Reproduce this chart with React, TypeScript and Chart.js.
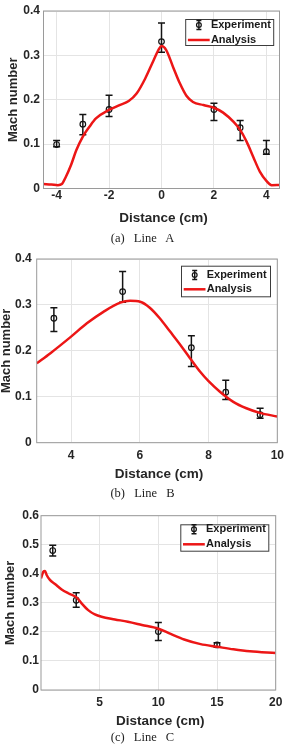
import React, { useEffect, useRef } from "react";
import { Chart, registerables } from "chart.js";

Chart.register(...registerables);

// ---- Line A ----
const lineADistance = [-4, -3, -2, 0, 2, 3, 4];
const lineAMach = [0.099, 0.145, 0.178, 0.331, 0.178, 0.137, 0.083];
const lineAMachLow = [0.094, 0.121, 0.162, 0.307, 0.153, 0.108, 0.077];
const lineAMachHigh = [0.108, 0.167, 0.21, 0.373, 0.192, 0.153, 0.108];
const lineAAnalysisDistance = [
  -4.5, -4.2, -3.95, -3.8, -3.65, -3.45, -3.25, -3, -2.75, -2.5, -2, -1.6, -1.25, -0.95, -0.62,
  -0.3, -0.1, 0, 0.18, 0.44, 0.7, 0.95, 1.2, 1.6, 2, 2.35, 2.75, 3, 3.25, 3.5, 3.75, 4, 4.2, 4.5,
];
const lineAAnalysisMach = [
  0.01, 0.009, 0.0075, 0.01, 0.026, 0.053, 0.086, 0.117, 0.139, 0.158, 0.177, 0.188, 0.197, 0.214,
  0.248, 0.289, 0.314, 0.321, 0.312, 0.274, 0.237, 0.209, 0.195, 0.188, 0.182, 0.171, 0.15, 0.132,
  0.105, 0.071, 0.038, 0.017, 0.0075, 0.008,
];
const lineADistanceTicks = [-4, -2, 0, 2, 4];
const lineAMachTicks = [0, 0.1, 0.2, 0.3, 0.4];

// ---- Line B ----
const lineBDistance = [3.5, 5.5, 7.5, 8.5, 9.5];
const lineBMach = [0.271, 0.329, 0.207, 0.11, 0.061];
const lineBMachLow = [0.242, 0.306, 0.166, 0.094, 0.053];
const lineBMachHigh = [0.294, 0.373, 0.233, 0.136, 0.075];
const lineBAnalysisDistance = [
  3, 3.4, 4, 4.46, 4.94, 5.43, 5.72, 6.01, 6.29, 6.58, 6.87, 7.17, 7.46, 7.75, 8, 8.33, 8.72, 9.1,
  9.49, 10,
];
const lineBAnalysisMach = [
  0.173, 0.195, 0.231, 0.26, 0.285, 0.305, 0.309, 0.307, 0.294, 0.271, 0.243, 0.214, 0.184, 0.155,
  0.134, 0.111, 0.089, 0.075, 0.065, 0.057,
];
const lineBDistanceTicks = [4, 6, 8, 10];
const lineBMachTicks = [0, 0.1, 0.2, 0.3, 0.4];

// ---- Line C ----
const lineCDistance = [1, 3, 10, 15];
const lineCMach = [0.48, 0.309, 0.201, 0.155];
const lineCMachLow = [0.461, 0.285, 0.17, 0.147];
const lineCMachHigh = [0.498, 0.335, 0.232, 0.163];
const lineCAnalysisDistance = [
  0, 0.2, 0.34, 0.48, 0.76, 1.19, 1.76, 2.32, 3.03, 3.46, 4.02, 4.59, 5.16, 6.3, 7.4, 8.6, 10,
  11.05, 12.2, 13.6, 15, 16.4, 17.8, 20,
];
const lineCAnalysisMach = [
  0.384, 0.407, 0.41, 0.396, 0.379, 0.365, 0.346, 0.333, 0.319, 0.298, 0.275, 0.26, 0.252, 0.243,
  0.235, 0.224, 0.211, 0.193, 0.174, 0.158, 0.149, 0.14, 0.133, 0.127,
];
const lineCDistanceTicks = [5, 10, 15, 20];
const lineCMachTicks = [0, 0.1, 0.2, 0.3, 0.4, 0.5, 0.6];

const SANS = "'Liberation Sans', Arial, Helvetica, sans-serif";
const SERIF = "'Liberation Serif', 'Times New Roman', serif";
const TEXT = "#262626";
const RED = "rgb(236, 22, 22)";

type Box = { left: number; top: number; right: number; bottom: number };
type LegendBox = { right: number; top: number; w: number; h: number; row1: number; row2: number };

type PanelProps = {
  width: number;
  height: number;
  area: Box;
  xRange: [number, number];
  yRange: [number, number];
  xTicks: number[];
  yTicks: number[];
  expX: number[];
  expY: number[];
  expLow: number[];
  expHigh: number[];
  fitX: number[];
  fitY: number[];
  xTickPad: number;
  yTickPad: number;
  xTitleY: number;
  yTitleX: number;
  legend: LegendBox;
};

function Panel(p: PanelProps) {
  const ref = useRef<HTMLCanvasElement | null>(null);

  useEffect(() => {
    const canvas = ref.current;
    if (!canvas) return;

    const decor = {
      id: "decor",
      beforeDatasetsDraw(chart: any) {
        const { ctx, chartArea: a, scales } = chart;
        const x = scales.x;
        const y = scales.y;
        ctx.save();
        ctx.beginPath();
        ctx.rect(a.left, a.top, a.right - a.left, a.bottom - a.top);
        ctx.clip();
        ctx.strokeStyle = "#141414";
        ctx.lineWidth = 1.5;
        p.expX.forEach((d, i) => {
          const px = x.getPixelForValue(d);
          const lo = y.getPixelForValue(p.expLow[i]);
          const hi = y.getPixelForValue(p.expHigh[i]);
          ctx.beginPath();
          ctx.moveTo(px, lo);
          ctx.lineTo(px, hi);
          ctx.moveTo(px - 3.5, lo);
          ctx.lineTo(px + 3.5, lo);
          ctx.moveTo(px - 3.5, hi);
          ctx.lineTo(px + 3.5, hi);
          ctx.stroke();
        });
        ctx.restore();
      },
      afterDraw(chart: any) {
        const { ctx, chartArea: a } = chart;
        ctx.save();
        // axes frame
        ctx.strokeStyle = "#9a9a9a";
        ctx.lineWidth = 1;
        ctx.strokeRect(a.left, a.top, a.right - a.left, a.bottom - a.top);

        // legend
        const L = p.legend;
        const bx = a.right - L.right - L.w;
        const by = a.top + L.top;
        ctx.fillStyle = "#ffffff";
        ctx.fillRect(bx, by, L.w, L.h);
        ctx.strokeStyle = "#3c3c3c";
        ctx.lineWidth = 1;
        ctx.strokeRect(bx + 0.5, by + 0.5, L.w - 1, L.h - 1);

        const r1 = by + L.row1;
        const r2 = by + L.row2;
        const mx = bx + 13.7;
        ctx.strokeStyle = "#141414";
        ctx.lineWidth = 1.4;
        ctx.beginPath();
        ctx.moveTo(mx, r1 - 4.5);
        ctx.lineTo(mx, r1 + 4.5);
        ctx.moveTo(mx - 2.5, r1 - 4.5);
        ctx.lineTo(mx + 2.5, r1 - 4.5);
        ctx.moveTo(mx - 2.5, r1 + 4.5);
        ctx.lineTo(mx + 2.5, r1 + 4.5);
        ctx.stroke();
        ctx.beginPath();
        ctx.lineWidth = 1.2;
        ctx.arc(mx, r1, 2.4, 0, Math.PI * 2);
        ctx.stroke();

        ctx.strokeStyle = RED;
        ctx.lineWidth = 2.5;
        ctx.beginPath();
        ctx.moveTo(bx + 2.7, r2);
        ctx.lineTo(bx + 24.5, r2);
        ctx.stroke();

        ctx.fillStyle = "#1a1a1a";
        ctx.font = `bold 11px ${SANS}`;
        ctx.textAlign = "left";
        ctx.textBaseline = "middle";
        ctx.fillText("Experiment", bx + 25.7, r1);
        ctx.fillText("Analysis", bx + 25.7, r2);

        // axis titles
        ctx.fillStyle = TEXT;
        ctx.font = `bold 13.5px ${SANS}`;
        ctx.textAlign = "center";
        ctx.fillText("Distance (cm)", (a.left + a.right) / 2 + 2, p.xTitleY);
        ctx.translate(p.yTitleX, (a.top + a.bottom) / 2);
        ctx.rotate(-Math.PI / 2);
        ctx.font = `bold 13px ${SANS}`;
        ctx.fillText("Mach number", 0, 0);
        ctx.restore();
      },
    };

    const tickFont = { family: SANS, weight: "bold" as const, size: 12 };

    const chart = new Chart(canvas, {
      type: "scatter",
      data: {
        datasets: [
          {
            type: "line",
            label: "Analysis",
            data: p.fitX.map((d, i) => ({ x: d, y: p.fitY[i] })),
            borderColor: RED,
            borderWidth: 2.5,
            pointRadius: 0,
            fill: false,
            cubicInterpolationMode: "monotone",
          },
          {
            type: "scatter",
            label: "Experiment",
            data: p.expX.map((d, i) => ({ x: d, y: p.expY[i] })),
            pointStyle: "circle",
            pointRadius: 2.8,
            pointBorderWidth: 1.2,
            pointBorderColor: "#141414",
            pointBackgroundColor: "rgba(0,0,0,0)",
            showLine: false,
          },
        ],
      },
      options: {
        responsive: false,
        animation: false,
        devicePixelRatio: 1,
        layout: {
          padding: { left: 0, top: p.area.top, right: p.width - p.area.right, bottom: 0 },
        },
        plugins: { legend: { display: false }, tooltip: { enabled: false }, title: { display: false } },
        scales: {
          x: {
            type: "linear",
            min: p.xRange[0],
            max: p.xRange[1],
            afterBuildTicks: (s: any) => {
              s.ticks = p.xTicks.map((v) => ({ value: v }));
            },
            afterFit: (s: any) => {
              s.height = p.height - p.area.bottom;
            },
            grid: { color: "#e4e4e4", lineWidth: 1, drawTicks: false },
            border: { display: false },
            ticks: {
              font: tickFont,
              color: TEXT,
              padding: p.xTickPad,
              maxRotation: 0,
              autoSkip: false,
              callback: (v: any) => String(v),
            },
          },
          y: {
            type: "linear",
            min: p.yRange[0],
            max: p.yRange[1],
            afterBuildTicks: (s: any) => {
              s.ticks = p.yTicks.map((v) => ({ value: v }));
            },
            afterFit: (s: any) => {
              s.width = p.area.left;
            },
            grid: { color: "#e4e4e4", lineWidth: 1, drawTicks: false },
            border: { display: false },
            ticks: {
              font: tickFont,
              color: TEXT,
              padding: p.yTickPad,
              autoSkip: false,
              callback: (v: any) => (Number(v) === 0 ? "0" : Number(v).toFixed(1)),
            },
          },
        },
      },
      plugins: [decor],
    } as any);

    return () => chart.destroy();
  }, []);

  return (
    <canvas
      ref={ref}
      width={p.width}
      height={p.height}
      style={{ display: "block", width: p.width, height: p.height }}
    />
  );
}

function Caption({ text, centerY }: { text: string; centerY: number }) {
  return (
    <div
      style={{
        position: "absolute",
        left: 0,
        width: 285,
        top: centerY - 7,
        height: 14,
        lineHeight: "14px",
        textAlign: "center",
        fontFamily: SERIF,
        fontSize: 12.5,
        wordSpacing: 6,
        color: "#222",
        whiteSpace: "pre",
      }}
    >
      {text}
    </div>
  );
}

export default function App() {
  return (
    <div
      style={{
        position: "absolute",
        left: 0,
        top: 0,
        width: 293,
        height: 748,
        background: "#fff",
        overflow: "hidden",
      }}
    >
      <div style={{ position: "absolute", left: 0, top: 0 }}>
        <Panel
          width={293}
          height={245}
          area={{ left: 43.5, top: 11, right: 279.5, bottom: 188.5 }}
          xRange={[-4.5, 4.5]}
          yRange={[0, 0.4]}
          xTicks={lineADistanceTicks}
          yTicks={lineAMachTicks}
          expX={lineADistance}
          expY={lineAMach}
          expLow={lineAMachLow}
          expHigh={lineAMachHigh}
          fitX={lineAAnalysisDistance}
          fitY={lineAAnalysisMach}
          xTickPad={0}
          yTickPad={3.5}
          xTitleY={218.3}
          yTitleX={13}
          legend={{ right: 5.3, top: 8, w: 89, h: 27, row1: 6, row2: 21 }}
        />
      </div>
      <div style={{ position: "absolute", left: 0, top: 245 }}>
        <Panel
          width={293}
          height={250}
          area={{ left: 36.7, top: 14, right: 277.3, bottom: 197.7 }}
          xRange={[3, 10]}
          yRange={[0, 0.4]}
          xTicks={lineBDistanceTicks}
          yTicks={lineBMachTicks}
          expX={lineBDistance}
          expY={lineBMach}
          expLow={lineBMachLow}
          expHigh={lineBMachHigh}
          fitX={lineBAnalysisDistance}
          fitY={lineBAnalysisMach}
          xTickPad={6}
          yTickPad={5}
          xTitleY={229.3}
          yTitleX={6}
          legend={{ right: 6.3, top: 6.7, w: 90, h: 31.6, row1: 9.3, row2: 23.6 }}
        />
      </div>
      <div style={{ position: "absolute", left: 0, top: 495 }}>
        <Panel
          width={293}
          height={253}
          area={{ left: 41, top: 20.7, right: 275.7, bottom: 195 }}
          xRange={[0, 20]}
          yRange={[0, 0.6]}
          xTicks={lineCDistanceTicks}
          yTicks={lineCMachTicks}
          expX={lineCDistance}
          expY={lineCMach}
          expLow={lineCMachLow}
          expHigh={lineCMachHigh}
          fitX={lineCAnalysisDistance}
          fitY={lineCAnalysisMach}
          xTickPad={5}
          yTickPad={2}
          xTitleY={226.7}
          yTitleX={10}
          legend={{ right: 6.4, top: 8.6, w: 89, h: 27.4, row1: 5, row2: 20 }}
        />
      </div>
      <Caption text="(a) Line A" centerY={238.3} />
      <Caption text="(b) Line B" centerY={493} />
      <Caption text="(c) Line C" centerY={737} />
    </div>
  );
}
